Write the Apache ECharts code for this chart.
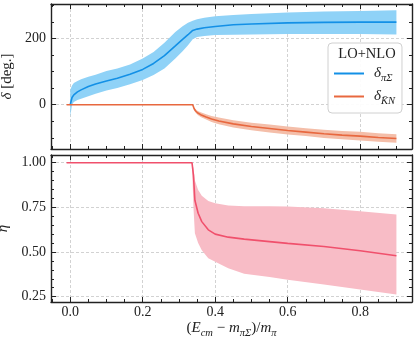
<!DOCTYPE html>
<html>
<head>
<meta charset="utf-8">
<script src="https://cdn.jsdelivr.net/npm/echarts@6/dist/echarts.min.js"></script>
<style>
  html, body { margin: 0; padding: 0; background: #fff; }
  #main { width: 416px; height: 340px; }
</style>
</head>
<body>
<div id="main"></div>
<script>
// tick values
const xMajor = [0, 0.2, 0.4, 0.6, 0.8];
const xMinor = [-0.05, 0, 0.05, 0.1, 0.15, 0.2, 0.25, 0.3, 0.35, 0.4, 0.45, 0.5, 0.55, 0.6, 0.65, 0.7, 0.75, 0.8, 0.85, 0.9];
const phaseMajor = [0, 200];
const phaseMinor = [-100, -50, 0, 50, 100, 150, 200, 250, 300];
const etaMajor = [0.25, 0.5, 0.75, 1.0];
const etaMinor = [0.25, 0.3, 0.35, 0.4, 0.45, 0.5, 0.55, 0.6, 0.65, 0.7, 0.75, 0.8, 0.85, 0.9, 0.95, 1.0];

// delta_piSigma (deg.)
const blueX   = [0, 0.005, 0.01, 0.02, 0.03, 0.05, 0.07, 0.1, 0.13, 0.165, 0.2, 0.23, 0.26, 0.29, 0.31, 0.325, 0.338, 0.35, 0.37, 0.4, 0.45, 0.5, 0.6, 0.7, 0.8, 0.9];
const blueMid = [0, 22, 30, 39, 45, 55, 63, 72, 80, 92, 107, 125, 149, 178, 198, 212, 225, 229, 233, 237, 242, 244.5, 248, 249.5, 250, 250];
const blueLo  = [-36, 0, 8, 14, 18, 26, 33, 43, 51, 62, 75, 90, 110, 140, 162, 180, 198, 205, 208, 211, 212, 213, 214, 214, 214, 213];
const blueHi  = [45, 58, 66, 72, 77, 85, 91, 102, 110, 122, 140, 160, 188, 220, 238, 248, 254, 259, 263, 268, 272, 275, 279, 282, 284, 286];

// delta_KbarN (deg.)
const orangeX   = [-0.01, 0.338, 0.342, 0.346, 0.352, 0.36, 0.375, 0.39, 0.41, 0.45, 0.5, 0.55, 0.6, 0.65, 0.7, 0.75, 0.8, 0.85, 0.9];
const orangeMid = [0, 0, -12, -19, -25, -30, -37, -43, -49, -58, -66, -72, -78, -83, -88, -92, -95, -99, -102];
const orangeLo  = [0, 0, -15, -24, -31, -37, -45, -52, -59, -69, -77.5, -84, -90, -95, -100.5, -104.5, -108, -112, -115];
const orangeHi  = [0, 0, -9, -14, -19, -23, -29, -34, -39, -47, -54.5, -60, -66, -71, -75.5, -79.5, -82, -86, -89];

// inelasticity eta
const redX   = [-0.01, 0.336, 0.34, 0.344, 0.353, 0.363, 0.381, 0.4, 0.436, 0.48, 0.55, 0.6, 0.7, 0.8, 0.9];
const redMid = [1, 1, 0.93, 0.79, 0.717, 0.67, 0.624, 0.6, 0.583, 0.572, 0.558, 0.548, 0.531, 0.507, 0.479];
const redLo  = [1, 1, 0.75, 0.605, 0.55, 0.51, 0.465, 0.445, 0.409, 0.378, 0.36, 0.345, 0.318, 0.29, 0.262];
const redHi  = [1, 1, 0.97, 0.9, 0.847, 0.815, 0.785, 0.773, 0.76, 0.756, 0.756, 0.755, 0.745, 0.728, 0.71];

const FONT = 'Liberation Serif';
const INK = '#222';

// main text sits in the middle of a tall line, subscripts drop to its bottom
const nameRich = {
  n: { fontFamily: FONT, fontSize: 15, color: INK, lineHeight: 22, verticalAlign: 'middle' },
  i: { fontFamily: FONT, fontSize: 15, fontStyle: 'italic', color: INK, lineHeight: 22, verticalAlign: 'middle' },
  s: { fontFamily: FONT, fontSize: 10.5, fontStyle: 'italic', color: INK, lineHeight: 10, verticalAlign: 'bottom' }
};

const frame = { show: true, onZero: false, lineStyle: { color: INK, width: 1.4 } };
const grid = { show: true, lineStyle: { type: [3, 2], color: '#c6c6c6', width: 0.8 } };

function tickAxis(base, pos, values, len, withLine) {
  return Object.assign({}, base, {
    position: pos,
    axisLine: withLine ? frame : { show: false, onZero: false },
    axisTick: { show: true, inside: true, length: len, customValues: values, lineStyle: { color: INK, width: 1 } },
    axisLabel: { show: false },
    splitLine: { show: false }
  });
}

function xAxes(gridIndex, withLabels) {
  const base = { type: 'value', gridIndex: gridIndex, min: -0.053, max: 0.943 };
  const main = tickAxis(base, 'bottom', xMajor, 5, true);
  main.axisLabel = { show: withLabels, customValues: xMajor, margin: 3, fontFamily: FONT, fontSize: 14, color: INK,
    formatter: v => v.toFixed(1) };
  main.splitLine = grid;
  if (withLabels) {
    main.name = '{n|(}{i|E}{s|cm}{n| − }{i|m}{s|πΣ}{n|)/}{i|m}{s|π}';
    main.nameLocation = 'middle';
    main.nameGap = 15;
    main.nameTextStyle = { rich: nameRich };
  }
  return [
    main,
    tickAxis(base, 'bottom', xMinor, 3, false),
    tickAxis(base, 'top', xMajor, 5, true),
    tickAxis(base, 'top', xMinor, 3, false)
  ];
}

function yAxes(gridIndex, min, max, major, minor, digits, name, gap) {
  const base = { type: 'value', gridIndex: gridIndex, min: min, max: max };
  const main = tickAxis(base, 'left', major, 5, true);
  main.axisLabel = { show: true, customValues: major, margin: 5, fontFamily: FONT, fontSize: 14, color: INK,
    formatter: v => v.toFixed(digits) };
  main.splitLine = grid;
  main.name = name;
  main.nameLocation = 'middle';
  main.nameGap = gap;
  main.nameTextStyle = { rich: nameRich };
  return [
    main,
    tickAxis(base, 'left', minor, 3, false),
    tickAxis(base, 'right', major, 5, true),
    tickAxis(base, 'right', minor, 3, false)
  ];
}

function pairs(xs, ys) {
  return xs.map((x, i) => [x, ys[i]]);
}

// shaded band: one polygon, upper edge out and lower edge back, placed with api.coord
function band(xs, lo, hi, color, xi, yi) {
  return {
    type: 'custom', xAxisIndex: xi, yAxisIndex: yi, silent: true, z: 1,
    data: [[xs[0], lo[0]]],
    encode: { x: 0, y: 1 },
    renderItem: function (params, api) {
      const top = xs.map((x, i) => api.coord([x, hi[i]]));
      const bottom = xs.map((x, i) => api.coord([x, lo[i]])).reverse();
      return { type: 'polygon', shape: { points: top.concat(bottom) }, style: { fill: color } };
    }
  };
}

function curve(name, xs, ys, color, xi, yi) {
  return {
    name: name, type: 'line', xAxisIndex: xi, yAxisIndex: yi, data: pairs(xs, ys),
    symbol: 'none', color: color, lineStyle: { color: color, width: 1.6 }, z: 3
  };
}

const BLUE = '#1390e6', BLUE_BAND = '#8fd2f7';
const ORANGE = '#e8683f', ORANGE_BAND = '#f4bea9';
const RED = '#f0506c', RED_BAND = '#f8bcc6';

const myChart = echarts.init(document.getElementById('main'), null, { renderer: 'canvas' });

const option = {
  animation: false,
  backgroundColor: '#fff',
  grid: [
    { left: 51, top: 4, width: 361, height: 145, containLabel: false, outerBoundsMode: 'none' },
    { left: 51, top: 155, width: 361, height: 147, containLabel: false, outerBoundsMode: 'none' }
  ],
  xAxis: xAxes(0, false).concat(xAxes(1, true)),
  yAxis: yAxes(0, -134, 305, phaseMajor, phaseMinor, 0, '{i|δ}{n| [deg.]}', 27)
    .concat(yAxes(1, 0.22, 1.043, etaMajor, etaMinor, 2, '{i|η}', 29)),
  legend: {
    data: ['piS', 'KN'],
    orient: 'vertical',
    left: 328, top: 43,
    padding: [23, 7, 6, 5],
    itemWidth: 30, itemHeight: 14, itemGap: 5,
    backgroundColor: 'rgba(255,255,255,0.92)',
    borderColor: '#d0d0d0', borderWidth: 1, borderRadius: 4,
    itemStyle: { opacity: 0 },
    formatter: n => n === 'piS' ? '{d|δ}{s|πΣ}' : '{d|δ}{s|K̄N}',
    textStyle: {
      rich: {
        d: { fontFamily: FONT, fontSize: 15, fontStyle: 'italic', color: INK, lineHeight: 21, verticalAlign: 'middle', padding: [0, 0, 0, 5] },
        s: { fontFamily: FONT, fontSize: 10.5, fontStyle: 'italic', color: INK, lineHeight: 10, verticalAlign: 'bottom' }
      }
    }
  },
  graphic: [{
    type: 'text', x: 367, y: 54, z: 100,
    style: { text: 'LO+NLO', fontFamily: FONT, fontSize: 14.5, fill: INK, align: 'center', verticalAlign: 'middle' }
  }],
  series: [
    band(blueX, blueLo, blueHi, BLUE_BAND, 0, 0),
    curve('piS', blueX, blueMid, BLUE, 0, 0),
    band(orangeX, orangeLo, orangeHi, ORANGE_BAND, 0, 0),
    curve('KN', orangeX, orangeMid, ORANGE, 0, 0),
    band(redX, redLo, redHi, RED_BAND, 4, 4),
    curve('eta', redX, redMid, RED, 4, 4)
  ]
};

myChart.setOption(option);
</script>
</body>
</html>
